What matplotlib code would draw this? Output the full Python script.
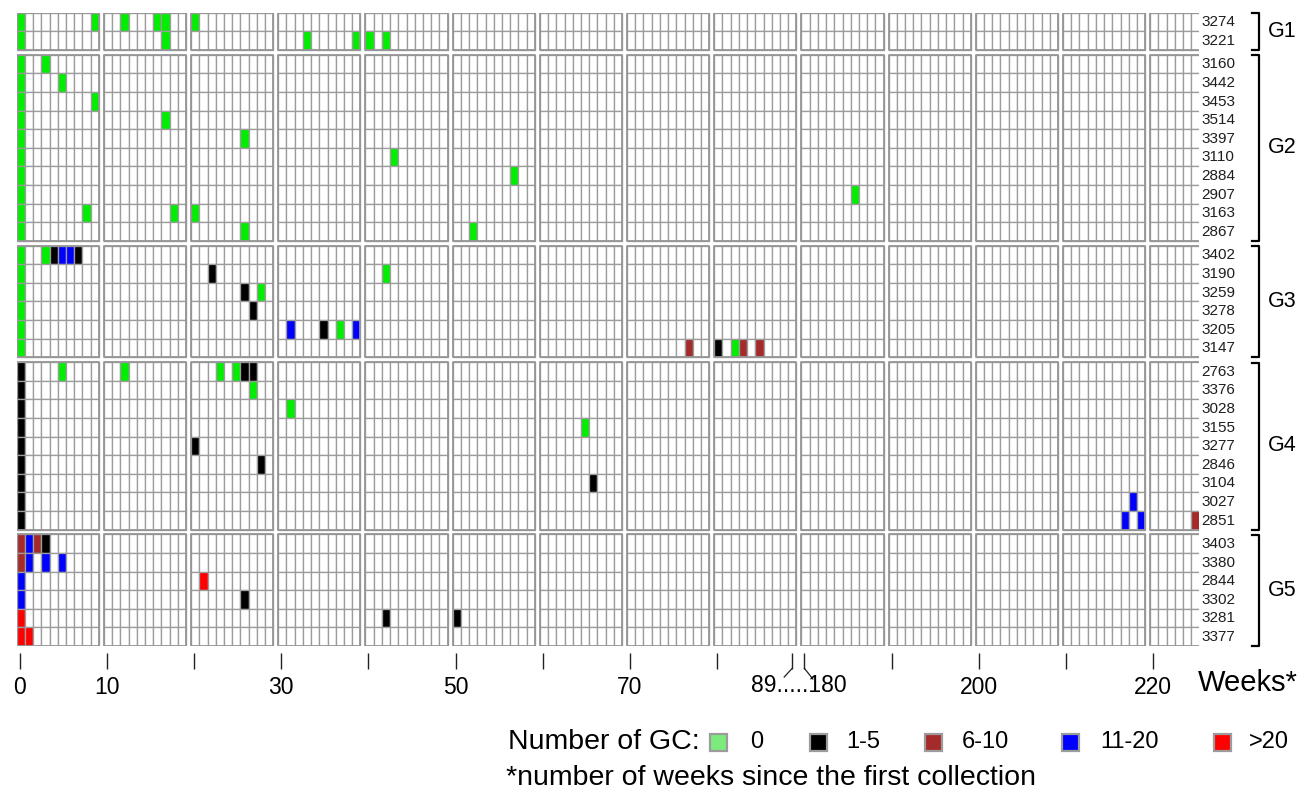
import matplotlib
matplotlib.use("Agg")
import matplotlib.pyplot as plt
from matplotlib.patches import Rectangle
from matplotlib.collections import PatchCollection
from matplotlib.lines import Line2D
import matplotlib.transforms as mtransforms

plt.rcParams['font.family'] = ['Liberation Sans', 'DejaVu Sans']

# ---------------- data ----------------
group_names = ["G1", "G2", "G3", "G4", "G5"]

# category codes: 0 -> "0", 1 -> "1-5", 2 -> "6-10", 3 -> "11-20", 4 -> ">20"
category_labels = ["0", "1-5", "6-10", "11-20", ">20"]
category_colors = ["#00EE00", "#000000", "#A52A2A", "#0000FF", "#FF0000"]
legend_colors = ["#7BEB7B", "#000000", "#A52A2A", "#0000FF", "#FF0000"]

g1_ids = ["3274", "3221"]
g1_events = [
    [(0, 0), (9, 0), (12, 0), (16, 0), (17, 0), (20, 0)],
    [(0, 0), (17, 0), (33, 0), (39, 0), (40, 0), (42, 0)],
]
g2_ids = ["3160", "3442", "3453", "3514", "3397", "3110", "2884", "2907", "3163", "2867"]
g2_events = [
    [(0, 0), (3, 0)],
    [(0, 0), (5, 0)],
    [(0, 0), (9, 0)],
    [(0, 0), (17, 0)],
    [(0, 0), (26, 0)],
    [(0, 0), (43, 0)],
    [(0, 0), (57, 0)],
    [(0, 0), (186, 0)],
    [(0, 0), (8, 0), (18, 0), (20, 0)],
    [(0, 0), (26, 0), (52, 0)],
]
g3_ids = ["3402", "3190", "3259", "3278", "3205", "3147"]
g3_events = [
    [(0, 0), (3, 0), (4, 1), (5, 3), (6, 3), (7, 1)],
    [(0, 0), (22, 1), (42, 0)],
    [(0, 0), (26, 1), (28, 0)],
    [(0, 0), (27, 1)],
    [(0, 0), (31, 3), (35, 1), (37, 0), (39, 3)],
    [(0, 0), (77, 2), (80, 1), (82, 0), (83, 2), (85, 2)],
]
g4_ids = ["2763", "3376", "3028", "3155", "3277", "2846", "3104", "3027", "2851"]
g4_events = [
    [(0, 1), (5, 0), (12, 0), (23, 0), (25, 0), (26, 1), (27, 1)],
    [(0, 1), (27, 0)],
    [(0, 1), (31, 0)],
    [(0, 1), (65, 0)],
    [(0, 1), (20, 1)],
    [(0, 1), (28, 1)],
    [(0, 1), (66, 1)],
    [(0, 1), (218, 3)],
    [(0, 1), (217, 3), (219, 3), (225, 2)],
]
g5_ids = ["3403", "3380", "2844", "3302", "3281", "3377"]
g5_events = [
    [(0, 2), (1, 3), (2, 2), (3, 1)],
    [(0, 2), (1, 3), (3, 3), (5, 3)],
    [(0, 3), (21, 4)],
    [(0, 3), (26, 1)],
    [(0, 4), (42, 1), (50, 1)],
    [(0, 4), (1, 4)],
]

weeks_shown = list(range(0, 90)) + list(range(180, 226))
tick_weeks = [0, 10, 20, 30, 40, 50, 60, 70, 80, 89, 180, 190, 200, 210, 220]
tick_labels = ["0", "10", "", "30", "", "50", "", "70", "", "", "", "", "200", "", "220"]
break_label = "89.....180"

groups = [
    (g1_ids, g1_events), (g2_ids, g2_events), (g3_ids, g3_events),
    (g4_ids, g4_events), (g5_ids, g5_events),
]

# ---------------- layout ----------------
W, H = 1311, 794
fig = plt.figure(figsize=(W / 100, H / 100), dpi=100)

X0, X1 = 16.7, 1199.5
Y0, Y1 = 12.7, 646.0
ax = fig.add_axes([X0 / W, 1 - Y1 / H, (X1 - X0) / W, (Y1 - Y0) / H])

CELL_GAP = 0.634
ROW_GAP = 0.263


def fx(px):
    return px / W


def fy(py):
    return 1 - py / H


def week_x(w):
    idx = w if w <= 89 else 90 + (w - 180)
    b, k = divmod(idx, 10)
    return b * (10 + CELL_GAP) + k


n_idx = len(weeks_shown)
n_blocks = (n_idx + 9) // 10
xmax = week_x(weeks_shown[-1]) + 1
n_rows = sum(len(g[0]) for g in groups)
ymax = n_rows + (len(groups) - 1) * ROW_GAP

grid_color = "#9C9C9C"
cells = []
faces = []
borders = []
row_y = 0.0
group_spans = []
for gi, (ids, events) in enumerate(groups):
    gtop = row_y
    for rid, ev in zip(ids, events):
        lookup = dict(ev)
        for w in weeks_shown:
            cells.append(Rectangle((week_x(w), row_y), 1, 1))
            faces.append(category_colors[lookup[w]] if w in lookup else "white")
        ax.text(xmax + 0.25, row_y + 0.52, rid, ha="left", va="center",
                fontsize=11, color="#1E1E1E", clip_on=False)
        row_y += 1
    gbot = row_y
    group_spans.append((gtop, gbot))
    for b in range(n_blocks):
        ncell = min(10, n_idx - b * 10)
        borders.append(Rectangle((b * (10 + CELL_GAP), gtop), ncell, gbot - gtop))
    row_y += ROW_GAP

pc = PatchCollection(cells, facecolors=faces, edgecolors=grid_color, linewidths=0.95)
ax.add_collection(pc)
bc = PatchCollection(borders, facecolors="none", edgecolors="#969696", linewidths=1.3)
ax.add_collection(bc)

ax.set_xlim(0, xmax)
ax.set_ylim(ymax, 0)
for s in ["top", "left", "right"]:
    ax.spines[s].set_visible(False)
ax.spines["bottom"].set_position(("outward", 4.8))
ax.spines["bottom"].set_visible(False)
ax.set_yticks([])

tick_pos = []
for w in tick_weeks:
    tick_pos.append(week_x(w) + (0.5 if w == 89 else 0.35))
ax.set_xticks(tick_pos)
ax.set_xticklabels(tick_labels)
ax.tick_params(axis="x", length=11.2, width=1.0, color="#222222", pad=5.5, labelsize=16.5)

# broken-axis marks
blend = mtransforms.blended_transform_factory(ax.transData, fig.transFigure)
x89 = tick_pos[tick_weeks.index(89)]
x180 = tick_pos[tick_weeks.index(180)]
px_per_cell = (X1 - X0) / xmax
ax.add_line(Line2D([x89, x89 - 8 / px_per_cell], [fy(668.3), fy(677)], transform=blend,
                   color="#222222", lw=0.9, clip_on=False))
ax.add_line(Line2D([x180, x180 + 8.5 / px_per_cell], [fy(668.3), fy(679)], transform=blend,
                   color="#222222", lw=0.9, clip_on=False))
ax.text(fx(799), fy(686), break_label, transform=fig.transFigure, ha="center", va="center",
        fontsize=16.5, clip_on=False)

fig.text(fx(1198), fy(683), "Weeks*", ha="left", va="center", fontsize=21)

# group brackets
blend_y = mtransforms.blended_transform_factory(fig.transFigure, ax.transData)
for name, (gtop, gbot) in zip(group_names, group_spans):
    top = gtop + 0.03
    bot = gbot
    ax.add_line(Line2D([fx(1251.5), fx(1259), fx(1259), fx(1251.5)], [top, top, bot, bot],
                       transform=blend_y, color="black", lw=1.6, clip_on=False))
    ax.text(fx(1268), (gtop + gbot) / 2, name, transform=blend_y, ha="left", va="center",
            fontsize=15.5, clip_on=False)

# legend
fig.text(fx(508), fy(742), "Number of GC:", ha="left", va="center", fontsize=20.5)
sw_x = [710, 810, 925, 1062, 1214]
lab_x = [750, 846, 962, 1100, 1249]
for col, lab, sx, lx in zip(legend_colors, category_labels, sw_x, lab_x):
    fig.patches.append(Rectangle((fx(sx), fy(751)), 17 / W, 17 / H, transform=fig.transFigure,
                                 facecolor=col, edgecolor="#9C9C9C", linewidth=1.6))
    fig.text(fx(lx), fy(742), lab, ha="left", va="center", fontsize=17)
fig.text(fx(506), fy(778), "*number of weeks since the first collection", ha="left",
         va="center", fontsize=20.5)

fig.savefig("out.png", dpi=100)
